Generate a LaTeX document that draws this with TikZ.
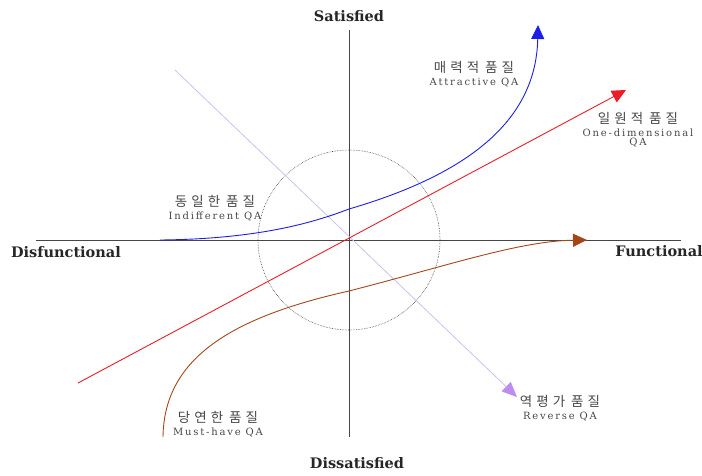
\documentclass[tikz,border=0pt]{standalone}
\usepackage{fontspec}
\setmainfont{Liberation Serif}
\newfontfamily\kofont[LetterSpace=30]{Noto Sans CJK KR}
\newfontfamily\qafont[LetterSpace=18]{DejaVu Serif}
\newfontfamily\axfont{DejaVu Serif}
\usetikzlibrary{positioning, arrows.meta}

\definecolor{kanoblue}{RGB}{30,30,235}
\definecolor{kanored}{RGB}{235,30,40}
\definecolor{kanobrown}{RGB}{165,70,25}
\definecolor{kanoviolet}{RGB}{200,195,240}
\definecolor{tipviolet}{RGB}{190,140,240}
\definecolor{axisgray}{RGB}{70,70,70}

\newcommand{\kline}[1]{{\kofont\fontsize{13.5}{14}\selectfont #1}}
\newcommand{\qline}[1]{{\qafont\fontsize{10}{11}\selectfont #1}}

\begin{document}
\begin{tikzpicture}[
x=1pt, y=-1pt,
axis/.style={draw=axisgray, line width=1pt},
axislabel/.style={font=\axfont\bfseries\fontsize{14.5}{16}\selectfont, text=black!85},
qalabel/.style={align=center, inner sep=0pt, font=\fontsize{9}{12.5}\selectfont, text=black!72},
curve/.style={line width=0.9pt},
bigtip/.style={-{Triangle[length=14pt, width=13pt]}}
]
\useasboundingbox (0,0) rectangle (702,475);

% axes
\coordinate (ax_left) at (36,240);
\coordinate (ax_right) at (681,240);
\coordinate (ax_top) at (349,30);
\coordinate (ax_bottom) at (349,437);
\coordinate (ax_origin) at (349,240);
\draw[axis] (ax_left) -- (ax_right);
\draw[axis] (ax_top) -- (ax_bottom);

\node[axislabel] (lbl_satisfied) at (349,16) {Satisfied};
\node[axislabel] (lbl_dissatisfied) at (357,463) {Dissatisfied};
\node[axislabel] (lbl_disfunctional) at (66,252) {Disfunctional};
\node[axislabel] (lbl_functional) at (659,251) {Functional};

% indifference zone
\draw[axisgray, densely dotted, line width=0.6pt] (ax_origin) circle[x radius=91, y radius=90];

% reverse QA
\coordinate (rev_start) at (175,70);
\coordinate (rev_end) at (517,397);
\draw[kanoviolet, line width=0.8pt, -{Triangle[length=15pt, width=13pt, color=tipviolet, fill=tipviolet]}] (rev_start) -- (rev_end);

% one-dimensional QA
\coordinate (one_start) at (78,383);
\coordinate (one_end) at (626,90);
\draw[curve, kanored, bigtip] (one_start) -- (one_end);

% attractive QA
\coordinate (att_start) at (160,240);
\coordinate (att_mid) at (349,209);
\coordinate (att_end) at (538,25);
\draw[curve, kanoblue, bigtip] (att_start) .. controls (260,239) and (315,222) .. (att_mid)
  .. controls (455,178) and (536,128) .. (att_end);

% must-have QA
\coordinate (must_start) at (163,437);
\coordinate (must_mid) at (349,291);
\coordinate (must_end) at (587,240);
\draw[curve, kanobrown, bigtip] (must_start) .. controls (164,360) and (228,318) .. (must_mid)
  .. controls (450,265) and (520,241) .. (must_end);

% labels
\node[qalabel] (lbl_attractive) at (474,74) {\kline{매력적\hspace{6pt}품질}\\\qline{Attractive QA}};
\node[qalabel] (lbl_onedim) at (638,130) {\kline{일원적\hspace{6pt}품질}\\\qline{One-dimensional}\\[-3pt]\qline{QA}};
\node[qalabel] (lbl_indifferent) at (215,208) {\kline{동일한\hspace{6pt}품질}\\\qline{Indifferent QA}};
\node[qalabel] (lbl_musthave) at (218,424) {\kline{당연한\hspace{6pt}품질}\\\qline{Must-have QA}};
\node[qalabel] (lbl_reverse) at (560,408) {\kline{역평가\hspace{6pt}품질}\\\qline{Reverse QA}};

\end{tikzpicture}
\end{document}
